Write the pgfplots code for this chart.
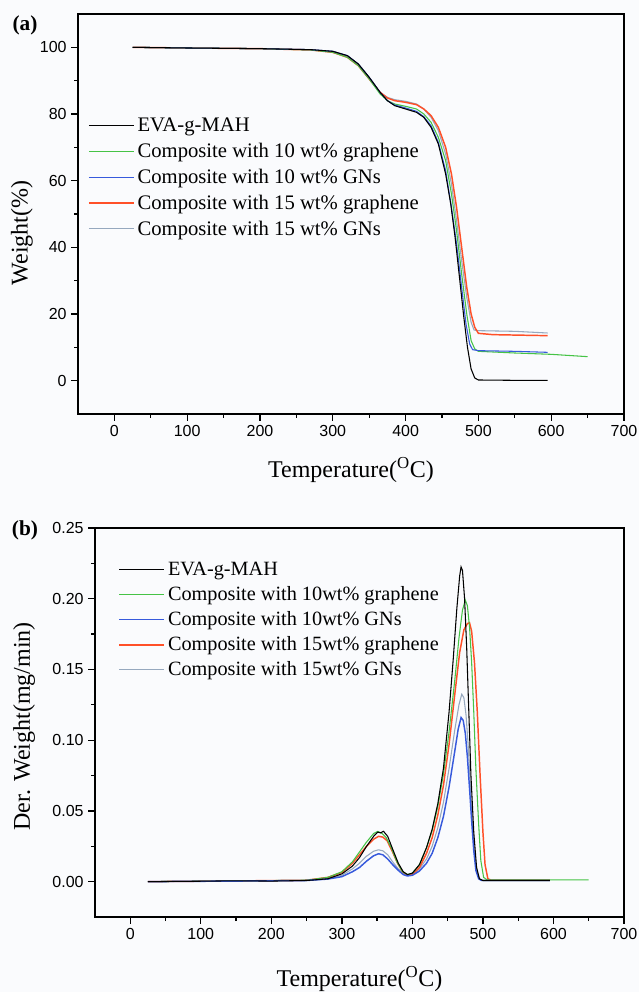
\documentclass[border=0pt]{standalone}
\usepackage{fontspec}
\setmainfont{Liberation Serif}
\newfontfamily\arial{Liberation Sans}
\usepackage{pgfplots}
\pgfplotsset{compat=1.18}
\definecolor{bgcol}{RGB}{250,251,253}
\definecolor{cgreen}{RGB}{70,195,70}
\definecolor{cblue}{RGB}{55,90,220}
\definecolor{corange}{RGB}{255,80,40}
\definecolor{cgray}{RGB}{150,168,190}
\pgfplotsset{
  mystyle/.style={
    scale only axis,
    axis background/.style={fill=bgcol},
    axis line style={line width=1pt},
    tick align=outside, tick pos=left,
    major tick length=5pt, minor tick length=3pt,
    every tick/.style={black, line width=1pt},
    ticklabel style={font=\arial\fontsize{12}{14}\selectfont},
    /pgf/number format/assume math mode=true,
    label style={font=\fontsize{18}{21}\selectfont},
    legend style={draw=none, fill=none, font=\fontsize{15.5}{18}\selectfont,
      row sep=3.2pt, inner sep=0pt},
    legend cell align=left,
    legend image code/.code={\draw[##1] (0pt,0pt) -- (34pt,0pt);},
    minor x tick num=1, minor y tick num=1,
    xmin=-50, xmax=700, xtick={0,100,...,700},
  }
}
\begin{document}
\begin{tikzpicture}
\useasboundingbox (0,0) rectangle (479.25pt,744pt);
\fill[bgcol] (0,0) rectangle (479.25pt,744pt);
\node[font=\bfseries\fontsize{16}{19}\selectfont] at (18.75pt,725.25pt) {(a)};
\node[font=\bfseries\fontsize{16}{19}\selectfont] at (18.75pt,346.5pt) {(b)};
% ---------------- top panel (a) ----------------
\begin{axis}[mystyle,
  at={(58.5pt,433.5pt)}, anchor=south west,
  width=409.5pt, height=300pt,
  ymin=-10, ymax=110, ytick={0,20,...,100},
  xlabel={Temperature(\textsuperscript{O}C)},
  ylabel={Weight(\%)},
  xlabel style={at={(axis description cs:0.5,-0.14)}, anchor=center},
  ylabel style={at={(axis description cs:-0.1026,0.4525)}, anchor=center},
  legend style={at={(axis description cs:0.018,0.748)}, anchor=north west},
]
\addlegendimage{black, line width=0.8pt}
\addlegendentry{EVA-g-MAH}
\addlegendimage{cgreen, line width=0.8pt}
\addlegendentry{Composite with 10 wt\% graphene}
\addlegendimage{cblue, line width=0.8pt}
\addlegendentry{Composite with 10 wt\% GNs}
\addlegendimage{corange, line width=1.1pt}
\addlegendentry{Composite with 15 wt\% graphene}
\addlegendimage{cgray, line width=0.8pt}
\addlegendentry{Composite with 15 wt\% GNs}
% gray
\addplot[cgray, line width=0.8pt, forget plot] coordinates {
(25,100)(100,99.8)(200,99.6)(270,99.3)(300,98.8)(320,97.5)(335,95)(350,91)(365,86.5)(375,85)(385,84.3)(400,83.8)(415,83)(425,81.5)(435,79)(445,75)(455,68)(463,59)(470,48)(477,36)(484,25)(490,17.5)(494,15.2)(500,15)(550,14.8)(595,14.3)};
% orange
\addplot[corange, line width=1.1pt, forget plot] coordinates {
(25,100)(100,99.8)(200,99.6)(270,99.2)(300,98.5)(320,97)(335,94.5)(350,90.5)(365,86.5)(375,84.8)(385,84)(400,83.5)(415,82.8)(425,81.5)(435,79.5)(445,76)(455,70)(463,62)(470,52)(477,40)(484,28)(490,20)(495,16)(500,14.2)(520,13.8)(595,13.5)};
% green
\addplot[cgreen, line width=0.8pt, forget plot] coordinates {
(25,100)(100,99.8)(200,99.6)(270,99.2)(300,98.5)(320,97)(335,94.5)(350,90.5)(365,86)(375,84)(385,83)(400,82.3)(415,81.5)(425,80)(435,77.5)(445,73)(455,66)(463,56)(470,45)(477,32)(484,20)(490,12)(495,9.5)(500,8.8)(550,8.3)(600,7.9)(650,7.2)};
% blue
\addplot[cblue, line width=0.8pt, forget plot] coordinates {
(25,100)(100,99.8)(200,99.6)(270,99.3)(300,98.8)(320,97.5)(335,95)(350,91)(365,86.5)(375,84)(385,82.7)(400,81.8)(415,80.8)(425,79.2)(435,76.5)(445,71.5)(455,63)(463,52)(470,41)(477,28)(483,17)(488,11)(492,9.3)(500,9)(550,8.8)(595,8.5)};
% black
\addplot[black, line width=0.8pt, forget plot] coordinates {
(25,100)(100,99.8)(200,99.6)(270,99.3)(300,98.8)(320,97.5)(335,95)(350,91)(365,86.5)(375,84)(385,82.5)(400,81.5)(415,80.5)(425,79)(435,76)(445,71)(455,62)(462,53)(468,43)(474,31)(480,19)(485,10)(490,3.5)(495,0.8)(500,0.2)(550,0.1)(595,0.1)};
\end{axis}
% ---------------- bottom panel (b) ----------------
\begin{axis}[mystyle,
  at={(71.25pt,56.25pt)}, anchor=south west,
  width=396.75pt, height=291.75pt,
  ymin=-0.025, ymax=0.25, ytick={0,0.05,...,0.25},
  scaled y ticks=false,
  yticklabel style={/pgf/number format/.cd, fixed, fixed zerofill, precision=2},
  xlabel={Temperature(\textsuperscript{O}C)},
  ylabel={Der. Weight(mg/min)},
  xlabel style={at={(axis description cs:0.5,-0.159)}, anchor=center},
  ylabel style={at={(axis description cs:-0.134,0.49)}, anchor=center},
  legend style={at={(axis description cs:0.0435,0.92)}, anchor=north west,
    font=\fontsize{15.2}{18}\selectfont, row sep=2.8pt},
]
\addlegendimage{black, line width=0.8pt}
\addlegendentry{EVA-g-MAH}
\addlegendimage{cgreen, line width=0.8pt}
\addlegendentry{Composite with 10wt\% graphene}
\addlegendimage{cblue, line width=1.1pt}
\addlegendentry{Composite with 10wt\% GNs}
\addlegendimage{corange, line width=1.3pt}
\addlegendentry{Composite with 15wt\% graphene}
\addlegendimage{cgray, line width=0.8pt}
\addlegendentry{Composite with 15wt\% GNs}
% gray
\addplot[cgray, line width=0.8pt, forget plot] coordinates {
(25,0)(150,0.0004)(250,0.0008)(280,0.002)(300,0.0045)(315,0.009)(325,0.013)(335,0.018)(345,0.0215)(352,0.0225)(358,0.0218)(365,0.019)(372,0.014)(380,0.009)(387,0.006)(393,0.0045)(400,0.005)(410,0.009)(420,0.016)(428,0.025)(436,0.038)(444,0.056)(452,0.08)(460,0.107)(466,0.125)(470,0.1325)(473,0.13)(476,0.118)(479,0.097)(482,0.07)(485,0.043)(488,0.02)(492,0.006)(496,0.0015)(500,0.0008)(595,0.0008)};
% orange
\addplot[corange, line width=1.1pt, forget plot] coordinates {
(25,0)(150,0.0005)(250,0.001)(280,0.003)(300,0.0065)(315,0.013)(325,0.019)(335,0.025)(345,0.030)(352,0.032)(358,0.0315)(364,0.029)(371,0.022)(379,0.013)(386,0.007)(393,0.0045)(400,0.005)(410,0.01)(420,0.02)(428,0.031)(436,0.047)(444,0.068)(452,0.097)(460,0.132)(467,0.162)(473,0.178)(478,0.1825)(481,0.183)(484,0.177)(488,0.155)(492,0.12)(496,0.075)(500,0.035)(503,0.012)(507,0.002)(512,0.001)(595,0.001)};
% green
\addplot[cgreen, line width=0.8pt, forget plot] coordinates {
(25,0)(150,0.0005)(250,0.001)(280,0.003)(300,0.007)(315,0.014)(325,0.021)(335,0.028)(345,0.034)(351,0.0355)(357,0.034)(363,0.031)(370,0.024)(378,0.014)(386,0.007)(393,0.005)(400,0.006)(410,0.012)(420,0.024)(428,0.036)(436,0.053)(444,0.076)(452,0.106)(460,0.142)(466,0.172)(471,0.192)(475,0.199)(478,0.195)(481,0.18)(484,0.155)(487,0.12)(490,0.08)(494,0.04)(497,0.015)(501,0.003)(506,0.0012)(650,0.0012)};
% blue
\addplot[cblue, line width=1.1pt, forget plot] coordinates {
(25,0)(150,0.0004)(250,0.0008)(280,0.0018)(300,0.0035)(315,0.007)(325,0.010)(335,0.0145)(345,0.0183)(352,0.0197)(358,0.019)(365,0.016)(372,0.012)(380,0.008)(387,0.005)(393,0.004)(400,0.0045)(410,0.0075)(420,0.013)(428,0.02)(436,0.031)(444,0.046)(452,0.067)(460,0.092)(465,0.108)(469,0.116)(472,0.114)(475,0.105)(478,0.088)(481,0.066)(484,0.043)(487,0.022)(490,0.008)(494,0.002)(498,0.0008)(595,0.0008)};
% black
\addplot[black, line width=0.8pt, forget plot] coordinates {
(25,0)(100,0.0003)(150,0.0006)(200,0.0004)(250,0.0008)(280,0.002)(300,0.0055)(315,0.011)(325,0.017)(335,0.025)(345,0.032)(351,0.035)(355,0.0345)(359,0.0356)(365,0.032)(372,0.023)(380,0.013)(387,0.007)(393,0.005)(400,0.006)(410,0.012)(420,0.024)(428,0.037)(436,0.055)(444,0.08)(452,0.12)(458,0.158)(463,0.193)(467,0.216)(469,0.2225)(471,0.22)(474,0.2)(477,0.165)(480,0.12)(483,0.075)(487,0.035)(491,0.01)(495,0.002)(500,0.0008)(550,0.0008)(595,0.0008)};
\end{axis}
\end{tikzpicture}
\end{document}
